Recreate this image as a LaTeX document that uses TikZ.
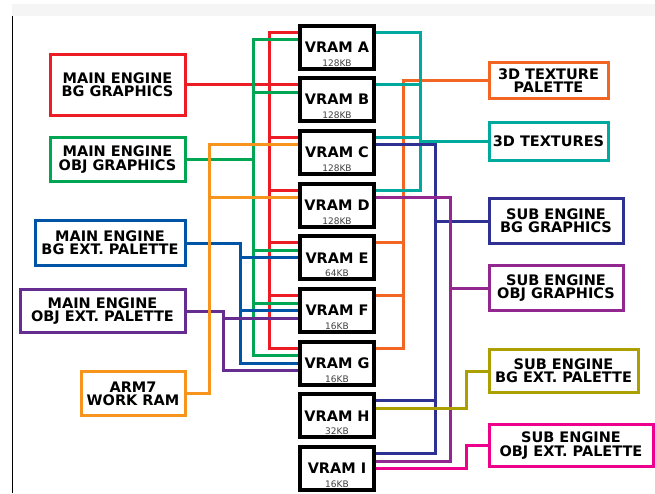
\documentclass[tikz,border=0pt]{standalone}
\usepackage{fontspec}
\setmainfont{DejaVu Sans}
\usepackage{tikz}
\usetikzlibrary{calc, backgrounds}
\definecolor{vrRed}{HTML}{ED1C24}
\definecolor{vrGreen}{HTML}{00A651}
\definecolor{vrBlue}{HTML}{0054A6}
\definecolor{vrPurple}{HTML}{662D91}
\definecolor{vrOrange}{HTML}{F7941D}
\definecolor{vrPal}{HTML}{F26522}
\definecolor{vrTeal}{HTML}{00A99D}
\definecolor{vrIndigo}{HTML}{2E3192}
\definecolor{vrMagenta}{HTML}{92278F}
\definecolor{vrOlive}{HTML}{ABA000}
\definecolor{vrPink}{HTML}{EC008C}
\newcommand{\boxfont}{\fontsize{14.5}{13.3}\selectfont\bfseries}
\newcommand{\sizefont}{\fontsize{9}{9}\selectfont}

\begin{document}
\begin{tikzpicture}[x=1pt, y=-1pt,
    vram/.style={draw=black, line width=4pt, fill=white, minimum width=74pt,
      minimum height=43pt, inner sep=0pt, font=\boxfont},
    vsize/.style={font=\sizefont, text=black!75, anchor=base, yshift=4.5pt, inner sep=0pt},
    blk/.style={line width=3pt, fill=white, align=center, inner sep=0pt, font=\boxfont},
    bus/.style={line width=3pt}
  ]
  \useasboundingbox (0,0) rectangle (655,493);
  \fill[black!4] (12,4) rectangle (655,16);
  \draw[line width=1pt] (12,16) -- (12,493);

  % VRAM banks
  \foreach \v/\sz [count=\i from 0] in {A/128KB, B/128KB, C/128KB, D/128KB, E/64KB,
      F/16KB, G/16KB, H/32KB, I/16KB}
    \node[vram, label={[vsize]south:\sz}] (v\v) at (337, {47+52.7*\i}) {VRAM \v};
  \foreach \v in {A,B,C,D,E,F,G,H,I} {
    \coordinate (\v-wa) at ($(v\v.west)+(0,-15)$);
    \coordinate (\v-wb) at ($(v\v.west)+(0,-7.5)$);
    \coordinate (\v-wc) at (v\v.west);
    \coordinate (\v-wd) at ($(v\v.west)+(0,7.5)$);
    \coordinate (\v-ea) at ($(v\v.east)+(0,-15)$);
    \coordinate (\v-eb) at ($(v\v.east)+(0,-7.5)$);
    \coordinate (\v-ec) at (v\v.east);
  }

  % main engine side
  \node[blk, draw=vrRed, minimum width=135pt, minimum height=61pt, anchor=east]
    (mbg) at (186.5, 84.7) {MAIN ENGINE\\BG GRAPHICS};
  \node[blk, draw=vrGreen, minimum width=135pt, minimum height=44pt, anchor=east]
    (mobj) at (186.5, 159.5) {MAIN ENGINE\\OBJ GRAPHICS};
  \node[blk, draw=vrBlue, minimum width=150pt, minimum height=45pt, anchor=east]
    (mbgx) at (186.5, 243) {MAIN ENGINE\\BG EXT. PALETTE};
  \node[blk, draw=vrPurple, minimum width=165pt, minimum height=43pt, anchor=east]
    (mobjx) at (186.5, 311) {MAIN ENGINE\\OBJ EXT. PALETTE};
  \node[blk, draw=vrOrange, minimum width=104pt, minimum height=44pt, anchor=east]
    (arm7) at (186.5, 393.5) {ARM7\\WORK RAM};

  % 3D and sub engine side
  \node[blk, draw=vrPal, minimum width=119pt, minimum height=36pt, anchor=west]
    (tpal) at (487.5, 80.5) {3D TEXTURE\\PALETTE};
  \node[blk, draw=vrTeal, minimum width=119pt, minimum height=38pt, anchor=west]
    (tex) at (487.5, 141.5) {3D TEXTURES};
  \node[blk, draw=vrIndigo, minimum width=134pt, minimum height=45pt, anchor=west]
    (sbg) at (487.5, 221) {SUB ENGINE\\BG GRAPHICS};
  \node[blk, draw=vrMagenta, minimum width=134pt, minimum height=45pt, anchor=west]
    (sobj) at (487.5, 288) {SUB ENGINE\\OBJ GRAPHICS};
  \node[blk, draw=vrOlive, minimum width=149pt, minimum height=43pt, anchor=west]
    (sbgx) at (487.5, 371) {SUB ENGINE\\BG EXT. PALETTE};
  \node[blk, draw=vrPink, minimum width=164pt, minimum height=42pt, anchor=west]
    (sobjx) at (487.5, 445.5) {SUB ENGINE\\OBJ EXT. PALETTE};

  % bus columns
  \coordinate (armBus) at (209,0);
  \coordinate (purpleBus) at (223,0);
  \coordinate (blueBus) at (240,0);
  \coordinate (greenBus) at (253,0);
  \coordinate (redBus) at (269,0);
  \coordinate (palBus) at (403,0);
  \coordinate (texBus) at (420,0);
  \coordinate (sbgBus) at (435,0);
  \coordinate (sobjBus) at (450,0);
  \coordinate (extBus) at (466,0);

  \begin{scope}[on background layer]
    \draw[bus, vrRed] (A-wa) -- (redBus |- A-wa) -- (redBus |- G-wa) -- (G-wa);
    \foreach \v in {B,C,D,E,F} \draw[bus, vrRed] (redBus |- \v-wa) -- (\v-wa);
    \draw[bus, vrRed] (mbg.east) -- (mbg.east -| redBus);

    \draw[bus, vrGreen] (A-wb) -- (greenBus |- A-wb) -- (greenBus |- G-wb) -- (G-wb);
    \foreach \v in {B,E,F} \draw[bus, vrGreen] (greenBus |- \v-wb) -- (\v-wb);
    \draw[bus, vrGreen] (mobj.east) -- (mobj.east -| greenBus);

    \draw[bus, vrBlue] (mbgx.east) -- (mbgx.east -| blueBus) -- (blueBus |- G-wc) -- (G-wc);
    \foreach \v in {E,F} \draw[bus, vrBlue] (blueBus |- \v-wc) -- (\v-wc);

    \draw[bus, vrPurple] (mobjx.east) -- (mobjx.east -| purpleBus) -- (purpleBus |- G-wd) -- (G-wd);
    \draw[bus, vrPurple] (purpleBus |- F-wd) -- (F-wd);

    \draw[bus, vrOrange] (C-wb) -- (armBus |- C-wb) -- (armBus |- arm7.east) -- (arm7.east);
    \draw[bus, vrOrange] (armBus |- D-wb) -- (D-wb);

    \draw[bus, vrPal] (tpal.west) -- (tpal.west -| palBus) -- (palBus |- G-ea) -- (G-ea);
    \foreach \v in {E,F} \draw[bus, vrPal] (palBus |- \v-ea) -- (\v-ea);

    \draw[bus, vrTeal] (A-ea) -- (texBus |- A-ea) -- (texBus |- D-ea) -- (D-ea);
    \foreach \v in {B,C} \draw[bus, vrTeal] (texBus |- \v-ea) -- (\v-ea);
    \draw[bus, vrTeal] (tex.west) -- (tex.west -| texBus);

    \draw[bus, vrIndigo] (C-eb) -- (sbgBus |- C-eb) -- (sbgBus |- I-ea) -- (I-ea);
    \draw[bus, vrIndigo] (sbgBus |- H-ea) -- (H-ea);
    \draw[bus, vrIndigo] (sbg.west) -- (sbg.west -| sbgBus);

    \draw[bus, vrMagenta] (D-eb) -- (sobjBus |- D-eb) -- (sobjBus |- I-eb) -- (I-eb);
    \draw[bus, vrMagenta] (sobj.west) -- (sobj.west -| sobjBus);

    \draw[bus, vrOlive] (H-eb) -- (extBus |- H-eb) |- (sbgx.west);
    \draw[bus, vrPink] (I-ec) -- (extBus |- I-ec) |- (sobjx.west);
  \end{scope}
\end{tikzpicture}
\end{document}
